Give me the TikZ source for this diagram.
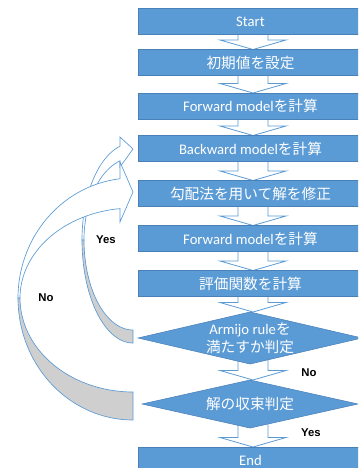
\documentclass[tikz,border=0pt]{standalone}
\usepackage{fontspec}
\setmainfont{Carlito}
\newfontfamily\jp{Noto Sans CJK JP}
\newfontfamily\lblfont{Liberation Sans}
\usetikzlibrary{shapes.geometric,calc}
\definecolor{ofblue}{HTML}{5B9BD5}
\definecolor{ofedge}{HTML}{4A80B8}
\definecolor{ofgray}{HTML}{CFCFCF}
\pgfdeclarelayer{background}
\pgfsetlayers{background,main}
\newcommand\blockarr[2]{%
  \draw[barrow] ($(#1.south -| sl)+(0,-8)$) -- ($(#2.north -| sl)+(0,-9.5)$)
    -- ($(#2.north -| hl)+(0,-9.5)$) -- (#2.north -| hc)
    -- ($(#2.north -| hr)+(0,-9.5)$) -- ($(#2.north -| sr)+(0,-9.5)$)
    -- ($(#1.south -| sr)+(0,-8)$) -- cycle;}
\begin{document}
\begin{tikzpicture}[x=0.75pt,y=-0.75pt,
  box/.style={rectangle,fill=ofblue,draw=ofedge,line width=0.4pt,minimum width=168.75pt,minimum height=19.5pt,inner sep=0pt,outer sep=0pt,text=white,font=\fontsize{11pt}{13.5pt}\selectfont},
  dia/.style={diamond,fill=ofblue,draw=ofedge,line width=0.4pt,inner sep=0pt,outer sep=0pt},
  diatext/.style={inner sep=0pt,text=white,align=center,font=\fontsize{11pt}{13.5pt}\selectfont},
  barrow/.style={fill=white,draw=ofblue,line width=0.6pt,line join=miter},
  cfront/.style={fill=white,draw=ofblue,line width=0.5pt,line join=miter},
  cback/.style={fill=ofgray,draw=ofblue,line width=0.5pt},
  lbl/.style={font=\lblfont\fontsize{8.5pt}{10pt}\selectfont\bfseries,text=black,inner sep=0pt}]
\useasboundingbox (0,0) rectangle (358,468);
\clip (0,0) rectangle (358,468);
\coordinate (sl) at (238,0);
\coordinate (sr) at (268,0);
\coordinate (hl) at (220,0);
\coordinate (hr) at (286,0);
\coordinate (hc) at (253,0);

% boxes
\node[box] (s0) at (250.5,21.5) {Start};
\node[box] (s1) at (250.5,62.5) {\jp 初期値を設定};
\node[box] (s2) at (250.5,106) {Forward model{\jp を計算}};
\node[box] (s3) at (250.5,148.5) {Backward model{\jp を計算}};
\node[box] (s4) at (250.5,193.5) {\jp 勾配法を用いて解を修正};
\node[box] (s5) at (250.5,238.5) {Forward model{\jp を計算}};
\node[box] (s6) at (250.5,283.5) {\jp 評価関数を計算};
\node[dia,minimum width=168pt,minimum height=39pt] (d1) at (250,338) {};
\node[diatext] (d1t) at (d1.center) {Armijo rule{\jp を}\\{\jp 満たすか判定}};
\node[dia,minimum width=162pt,minimum height=36pt] (d2) at (250,404) {};
\node[diatext] (d2t) at (d2.center) {\jp 解の収束判定};
\node[box] (s7) at (250.5,460) {End};

% straight block arrows
\begin{pgfonlayer}{background}
\blockarr{s0}{s1}
\blockarr{s1}{s2}
\blockarr{s2}{s3}
\blockarr{s3}{s4}
\blockarr{s4}{s5}
\blockarr{s5}{s6}
\blockarr{s6}{d1}
\blockarr{d1}{d2}
\blockarr{d2}{s7}
\end{pgfonlayer}

% small curved arrow (Armijo -> Backward)
\draw[cback] plot[domain=180:270,samples=40,variable=\t] ({133+51*cos(\t)},{240-103*sin(\t)})
  -- plot[domain=270:180,samples=40,variable=\t] ({133+49*cos(\t)},{240-90*sin(\t)}) -- cycle;
\draw[cfront] plot[domain=180:104.77,samples=40,variable=\t] ({133+51*cos(\t)},{240-97*sin(\t)})
  -- (120,137) -- (133,149) -- (120,167)
  -- plot[domain=105.38:180,samples=40,variable=\t] ({133+49*cos(\t)},{240-82*sin(\t)}) -- cycle;

% big curved arrow (convergence -> gradient step)
\draw[cback] plot[domain=180:270,samples=50,variable=\t] ({133+115*cos(\t)},{298-122*sin(\t)})
  -- plot[domain=270:180,samples=50,variable=\t] ({133+113*cos(\t)},{298-94*sin(\t)}) -- cycle;
\draw[cfront] plot[domain=180:96.49,samples=50,variable=\t] ({133+115*cos(\t)},{298-120*sin(\t)})
  -- (120,162) -- (133,192) -- (120,222)
  -- plot[domain=96.6:180,samples=50,variable=\t] ({133+113*cos(\t)},{298-90*sin(\t)}) -- cycle;

% labels
\node[lbl] (yes1) at (106,240) {Yes};
\node[lbl] (no1) at (46,298) {No};
\node[lbl] (no2) at (309,373) {No};
\node[lbl] (yes2) at (311,433) {Yes};
\end{tikzpicture}
\end{document}
